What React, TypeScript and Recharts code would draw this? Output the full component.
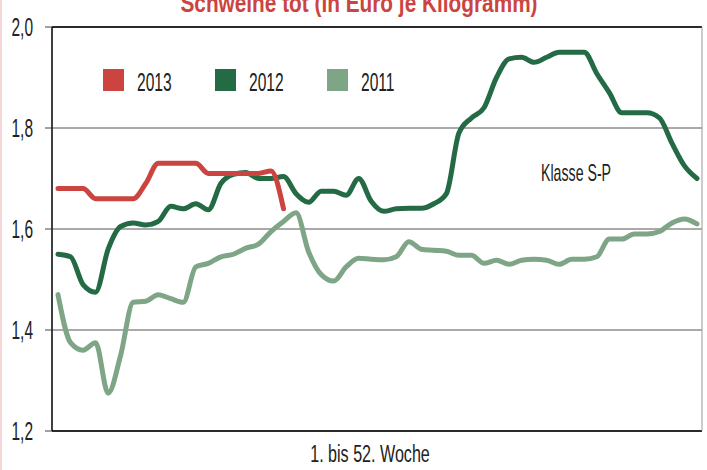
import { LineChart, Line, XAxis, YAxis, CartesianGrid, ReferenceLine } from "recharts";

const weeks = [
  1, 2, 3, 4, 5, 6, 7, 8, 9, 10, 11, 12, 13, 14, 15, 16, 17, 18, 19, 20, 21, 22, 23, 24, 25, 26,
  27, 28, 29, 30, 31, 32, 33, 34, 35, 36, 37, 38, 39, 40, 41, 42, 43, 44, 45, 46, 47, 48, 49, 50, 51, 52,
];

const y2013 = [
  1.68, 1.68, 1.68, 1.66, 1.66, 1.66, 1.66, 1.69, 1.73, 1.73, 1.73, 1.73, 1.71, 1.71, 1.71, 1.71,
  1.71, 1.715, 1.64,
];

const y2012 = [
  1.55, 1.545, 1.49, 1.475, 1.56, 1.605, 1.612, 1.608, 1.615, 1.645, 1.64, 1.65, 1.638, 1.69,
  1.708, 1.712, 1.7, 1.7, 1.704, 1.67, 1.653, 1.675, 1.675, 1.667, 1.7, 1.655, 1.635, 1.64, 1.641,
  1.641, 1.65, 1.67, 1.79, 1.82, 1.84, 1.9, 1.937, 1.94, 1.93, 1.94, 1.95, 1.95, 1.95, 1.908,
  1.87, 1.83, 1.83, 1.83, 1.82, 1.77, 1.725, 1.7,
];

const y2011 = [
  1.47, 1.375, 1.36, 1.375, 1.275, 1.35, 1.455, 1.457, 1.47, 1.462, 1.455, 1.525, 1.532, 1.545,
  1.55, 1.562, 1.57, 1.595, 1.615, 1.632, 1.555, 1.51, 1.497, 1.525, 1.542, 1.54, 1.539, 1.545,
  1.575, 1.56, 1.558, 1.556, 1.548, 1.548, 1.532, 1.538, 1.53, 1.538, 1.54, 1.538, 1.53, 1.54,
  1.54, 1.545, 1.58, 1.58, 1.59, 1.59, 1.595, 1.612, 1.62, 1.61,
];

const yTicks = [1.2, 1.4, 1.6, 1.8, 2.0];

const legendItems = [
  { name: "2013", color: "#cc4440" },
  { name: "2012", color: "#246a45" },
  { name: "2011", color: "#7ea586" },
];

const data = weeks.map((w, i) => ({
  week: w,
  y2013: i < y2013.length ? y2013[i] : null,
  y2012: y2012[i],
  y2011: y2011[i],
}));

const font = "'Liberation Sans', Arial, sans-serif";

function YTick(props: any) {
  const { x, y, payload } = props;
  return (
    <text
      transform={`translate(${x},${y}) scale(0.62,1)`}
      textAnchor="end"
      dominantBaseline="central"
      fontFamily={font}
      fontSize={25}
      fill="#222"
    >
      {payload.value.toFixed(1).replace(".", ",")}
    </text>
  );
}

function LegendBox() {
  return (
    <div style={{ position: "absolute", left: 101, top: 69, display: "flex" }}>
      {legendItems.map((it) => (
        <div key={it.name} style={{ width: 112, height: 22, display: "flex", alignItems: "flex-start" }}>
          <div style={{ width: 21, height: 22, background: it.color }} />
          <span
            style={{
              marginLeft: 13,
              fontFamily: font,
              fontSize: 26,
              lineHeight: "22px",
              color: "#222",
              display: "inline-block",
              transform: "scaleX(0.6)",
              transformOrigin: "left",
              position: "relative",
              top: 2,
            }}
          >
            {it.name}
          </span>
        </div>
      ))}
    </div>
  );
}

export default function App() {
  return (
    <div
      style={{
        position: "absolute",
        left: 0,
        top: 0,
        width: 707,
        height: 470,
        background: "#fff",
        overflow: "hidden",
        borderLeft: "2px solid #f6d6d6",
        boxSizing: "border-box",
      }}
    >
      <div
        style={{
          position: "absolute",
          left: 357,
          top: -10,
          transform: "translateX(-50%) scaleX(0.8)",
          whiteSpace: "nowrap",
          fontFamily: font,
          fontWeight: "bold",
          fontSize: 26,
          lineHeight: "26px",
          color: "#cc4440",
        }}
      >
        Schweine tot (in Euro je Kilogramm)
      </div>
      <div style={{ position: "absolute", left: -2, top: 0 }}>
        <LineChart width={707} height={470} data={data} margin={{ top: 27, right: 0, bottom: 0, left: 0 }}>
          <CartesianGrid yAxisId="l" vertical={false} stroke="#555" strokeWidth={1} />
          <XAxis
            dataKey="week"
            padding={{ left: 6, right: 5 }}
            tick={false}
            tickLine={false}
            height={39}
            axisLine={{ stroke: "#000", strokeWidth: 1.5 }}
          />
          <YAxis
            yAxisId="l"
            width={52}
            domain={[1.2, 2.0]}
            ticks={yTicks}
            tickSize={7}
            tickMargin={12}
            tickLine={{ stroke: "#444" }}
            axisLine={{ stroke: "#000", strokeWidth: 1.5 }}
            tick={<YTick />}
            interval={0}
          />
          <YAxis
            yAxisId="r"
            orientation="right"
            width={5}
            domain={[1.2, 2.0]}
            tick={false}
            tickLine={false}
            axisLine={{ stroke: "#999" }}
          />
          <ReferenceLine yAxisId="l" y={2.0} stroke="#000" strokeWidth={1.5} />
          <Line yAxisId="l" type="monotone" dataKey="y2011" name="2011" stroke="#7ea586" strokeWidth={5}
            dot={false} strokeLinecap="round" strokeLinejoin="round" isAnimationActive={false} />
          <Line yAxisId="l" type="monotone" dataKey="y2012" name="2012" stroke="#246a45" strokeWidth={5}
            dot={false} strokeLinecap="round" strokeLinejoin="round" isAnimationActive={false} />
          <Line yAxisId="l" type="monotone" dataKey="y2013" name="2013" stroke="#cc4440" strokeWidth={5}
            dot={false} strokeLinecap="round" strokeLinejoin="round" isAnimationActive={false} />
        </LineChart>
      </div>
      <LegendBox />
      <div
        style={{
          position: "absolute",
          left: 539,
          top: 161,
          fontFamily: font,
          fontSize: 24,
          lineHeight: "24px",
          color: "#222",
          whiteSpace: "nowrap",
          transform: "scaleX(0.59)",
          transformOrigin: "left",
        }}
      >
        Klasse S-P
      </div>
      <div
        style={{
          position: "absolute",
          left: 368,
          top: 443,
          fontFamily: font,
          fontSize: 23,
          lineHeight: "23px",
          color: "#222",
          whiteSpace: "nowrap",
          transform: "translateX(-50%) scaleX(0.7)",
        }}
      >
        1. bis 52. Woche
      </div>
    </div>
  );
}
